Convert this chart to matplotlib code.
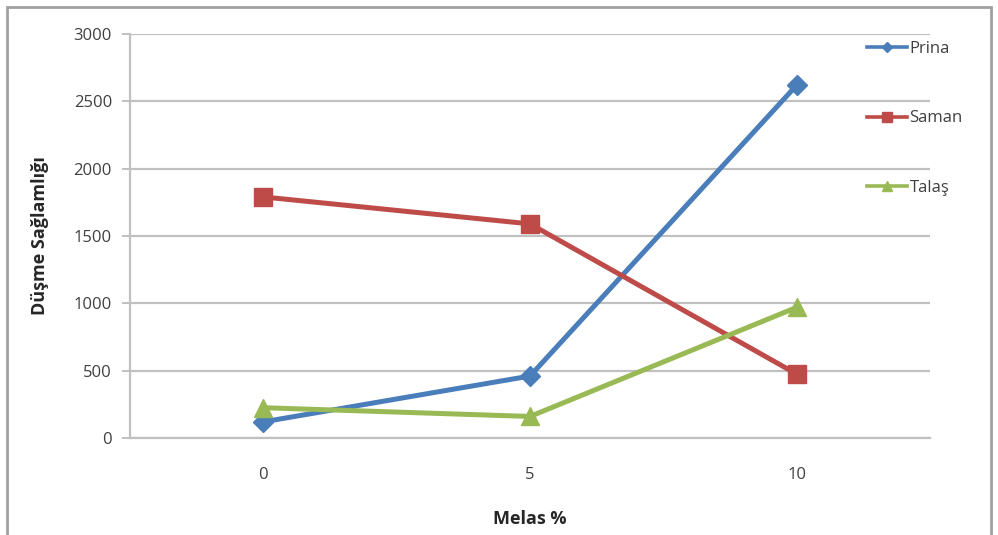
import matplotlib
matplotlib.use("Agg")
import matplotlib.pyplot as plt
from matplotlib.patches import Rectangle

# Data
categories = ["0", "5", "10"]
prina = [120, 460, 2620]
saman = [1790, 1590, 475]
talas = [225, 160, 970]
yticks = [0, 500, 1000, 1500, 2000, 2500, 3000]

plt.rcParams["font.family"] = ["Open Sans", "DejaVu Sans"]

fig = plt.figure(figsize=(9.98, 5.35), dpi=100)
ax = fig.add_axes([130 / 998, 1 - 438 / 535, 800 / 998, (438 - 34) / 535])

x = list(range(len(categories)))
series = [
    ("Prina", prina, "#4A7EBB", "D", 10),
    ("Saman", saman, "#BE4B48", "s", 13),
    ("Talaş", talas, "#98B954", "^", 13),
]
handles = []
for name, vals, col, mk, ms in series:
    ln, = ax.plot(x, vals, color=col, lw=3.6, marker=mk, ms=ms,
                  markeredgecolor=col, label=name, zorder=3)
    handles.append(ln)

ax.set_xlim(-0.5, len(categories) - 0.5)
ax.set_ylim(0, 3000)
ax.set_xticks(x)
ax.set_xticklabels(categories)
ax.set_yticks(yticks)
ax.set_yticklabels([str(v) for v in yticks])

grid_col = "#c0c0c0"
ax.yaxis.grid(True, color=grid_col, lw=1.6, zorder=0)
ax.set_axisbelow(True)
for s in ["top", "right"]:
    ax.spines[s].set_visible(False)
ax.spines["left"].set_color(grid_col)
ax.spines["left"].set_linewidth(1.6)
ax.spines["bottom"].set_color(grid_col)
ax.spines["bottom"].set_linewidth(1.6)

ax.tick_params(axis="y", length=6, width=1.4, color=grid_col, labelsize=12,
               labelcolor="#404040", pad=7)
ax.tick_params(axis="x", length=0, labelsize=12, labelcolor="#404040", pad=21)

ax.set_ylabel("Düşme Sağlamlığı", fontsize=13, fontweight="bold",
              color="#262626", labelpad=18)
ax.set_xlabel("Melas %", fontsize=13, fontweight="bold", color="#262626",
              labelpad=19)

# Legend at the right, entries spaced far apart
leg = ax.legend(handles=handles, loc="upper left",
                bbox_to_anchor=(852 / 998, 1 - 26 / 535),
                bbox_transform=fig.transFigure, frameon=False, fontsize=12,
                labelspacing=3.2, handlelength=2.4, handletextpad=0.15,
                markerscale=0.55, labelcolor="#404040")
for lh in leg.get_lines():
    lh.set_linewidth(2.6)

# Chart outer border
fig.add_artist(Rectangle((7 / 998, -0.05), (991 - 7) / 998, 1.05 - 7 / 535,
                         transform=fig.transFigure, fill=False,
                         edgecolor="#a0a0a0", lw=2.0))

fig.savefig("out.png", dpi=100)
